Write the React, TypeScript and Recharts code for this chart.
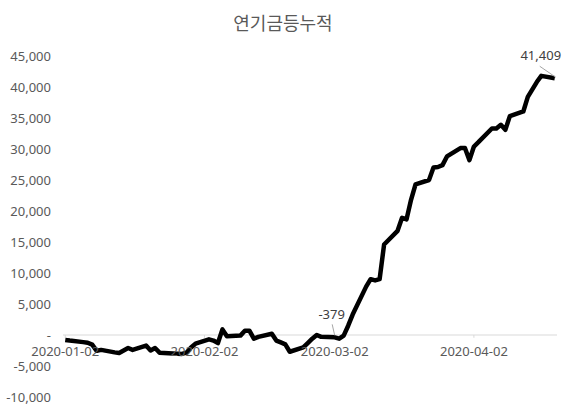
import { LineChart, Line, XAxis, YAxis, ReferenceLine, ReferenceDot } from "recharts";

const TITLE = "연기금등누적";

const DATES = [
  "2020-01-02", "2020-01-03", "2020-01-06", "2020-01-07", "2020-01-08", "2020-01-09", "2020-01-10",
  "2020-01-13", "2020-01-14", "2020-01-15", "2020-01-16", "2020-01-17",
  "2020-01-20", "2020-01-21", "2020-01-22", "2020-01-23",
  "2020-01-28", "2020-01-29", "2020-01-30", "2020-01-31",
  "2020-02-03", "2020-02-04", "2020-02-05", "2020-02-06", "2020-02-07",
  "2020-02-10", "2020-02-11", "2020-02-12", "2020-02-13", "2020-02-14",
  "2020-02-17", "2020-02-18", "2020-02-19", "2020-02-20", "2020-02-21",
  "2020-02-24", "2020-02-25", "2020-02-26", "2020-02-27", "2020-02-28",
  "2020-03-02", "2020-03-03", "2020-03-04", "2020-03-05", "2020-03-06",
  "2020-03-09", "2020-03-10", "2020-03-11", "2020-03-12", "2020-03-13",
  "2020-03-16", "2020-03-17", "2020-03-18", "2020-03-19", "2020-03-20",
  "2020-03-23", "2020-03-24", "2020-03-25", "2020-03-26", "2020-03-27",
  "2020-03-30", "2020-03-31",
  "2020-04-01", "2020-04-02", "2020-04-03",
  "2020-04-06", "2020-04-07", "2020-04-08", "2020-04-09", "2020-04-10",
  "2020-04-13", "2020-04-14", "2020-04-16", "2020-04-17", "2020-04-20",
];

const VALUES = [
  -800, -900, -1150, -1250, -1550, -2550, -2400,
  -2800, -2900, -2500, -2100, -2400,
  -1700, -2500, -2100, -2850,
  -3050, -2850, -2000, -1400,
  -700, -900, -1300, 900, -200,
  -100, 700, 700, -600, -300,
  200, -900, -1200, -1500, -2700,
  -2000, -1300, -600, 0, -300,
  -379, -600, -100, 1500, 3300,
  7800, 9000, 8800, 9000, 14600,
  16800, 18900, 18650, 21800, 24300,
  25000, 27000, 27100, 27400, 28800,
  30150, 30150,
  28200, 30400, 31100,
  33300, 33300, 33900, 33100, 35300,
  36050, 38400, 40800, 41800, 41409,
];

const X_TICKS = ["2020-01-02", "2020-02-02", "2020-03-02", "2020-04-02"];
const Y_TICKS = [-10000, -5000, 0, 5000, 10000, 15000, 20000, 25000, 30000, 35000, 40000, 45000];

// data labels: which point, where the text sits relative to it, and the leader line
const LABELS: Record<string, { dx: number; leader: [number, number, number, number] }> = {
  "2020-03-02": { dx: -3, leader: [-2.5, -13, 0, -2] },
  "2020-04-20": { dx: -14, leader: [-15, -12, 1, -1] },
};

const START = Date.UTC(2020, 0, 2);
const dayOf = (s: string) => {
  const [y, m, d] = s.split("-").map(Number);
  return (Date.UTC(y, m - 1, d) - START) / 86400000;
};

const data = DATES.map((d, i) => ({ t: dayOf(d), date: d, v: VALUES[i] }));
const lastDay = dayOf(DATES[DATES.length - 1]);

const GRAY = "#595959";
const FONT = "'Noto Sans', 'Noto Sans CJK KR', sans-serif";

const fmt = (v: number) => (v === 0 ? "-" : v.toLocaleString("en-US"));

const PointLabel = (props: any) => {
  const { x, y, value, index } = props;
  const cfg = LABELS[data[index]?.date];
  if (!cfg) return null;
  const [lx1, ly1, lx2, ly2] = cfg.leader;
  return (
    <g>
      <line x1={x + lx1} y1={y + ly1} x2={x + lx2} y2={y + ly2} stroke="#a6a6a6" strokeWidth={1} />
      <text x={x + cfg.dx} y={y - 18} textAnchor="middle" fontSize={13} fill="#404040" fontFamily={FONT}>
        {fmt(value)}
      </text>
    </g>
  );
};

export default function App() {
  return (
    <div style={{ position: "absolute", left: 0, top: 0, width: 569, height: 412, background: "#fff" }}>
      <div
        style={{
          position: "absolute",
          top: 9,
          left: 0,
          width: 566,
          textAlign: "center",
          fontFamily: "'Noto Sans CJK KR', sans-serif",
          fontSize: 18,
          lineHeight: "26px",
          color: GRAY,
        }}
      >
        {TITLE}
      </div>
      <LineChart width={569} height={412} data={data} margin={{ top: 56, right: 12, bottom: 15, left: 0 }}>
        <XAxis type="number" dataKey="t" domain={[-0.5, lastDay + 0.5]} hide />
        <YAxis
          type="number"
          domain={[-10000, 45000]}
          ticks={Y_TICKS}
          width={63}
          axisLine={false}
          tickLine={false}
          tickMargin={6}
          tickFormatter={fmt}
          tick={{ fill: GRAY, fontSize: 13, fontFamily: FONT }}
          interval={0}
        />
        <ReferenceLine y={0} stroke="#d9d9d9" strokeWidth={1} />
        {X_TICKS.map((d) => (
          <ReferenceLine
            key={"tk" + d}
            segment={[{ x: dayOf(d), y: 0 }, { x: dayOf(d), y: -450 }]}
            stroke="#d9d9d9"
          />
        ))}
        {X_TICKS.map((d) => (
          <ReferenceDot
            key={d}
            x={dayOf(d)}
            y={0}
            r={0}
            fill="none"
            stroke="none"
            label={{ value: d, position: "bottom", offset: 12, fill: GRAY, fontSize: 13, fontFamily: FONT }}
          />
        ))}
        <Line
          type="linear"
          dataKey="v"
          stroke="#000"
          strokeWidth={4.5}
          strokeLinejoin="round"
          dot={false}
          activeDot={false}
          isAnimationActive={false}
          label={PointLabel}
        />
      </LineChart>
    </div>
  );
}
